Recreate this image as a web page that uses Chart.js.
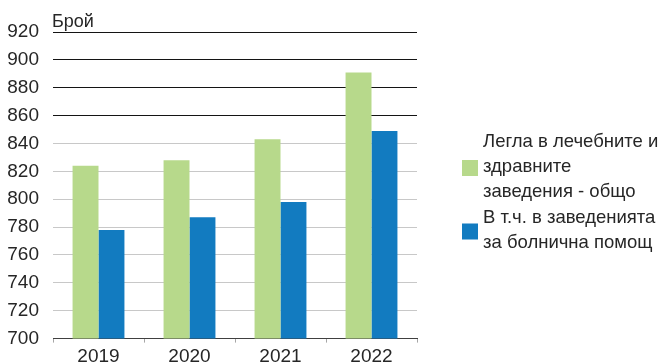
<!DOCTYPE html>
<html>
<head>
<meta charset="utf-8">
<script src="https://cdn.jsdelivr.net/npm/chart.js@4"></script>
<style>
  html, body { margin: 0; padding: 0; background: #ffffff; }
  #wrap { width: 667px; height: 364px; position: relative; }
</style>
</head>
<body>
<div id="wrap"><canvas id="myChart"></canvas></div>
<script>
var years = ['2019', '2020', '2021', '2022'];
var beds_total = [824, 828, 843, 891];
var beds_hospital = [778, 787, 798, 849];
var series_names = [
    ['Легла в лечебните и', 'здравните', 'заведения - общо'],
    ['В т.ч. в заведенията', 'за болнична помощ']
];
var series_colors = ['#b7d98b', '#127bc0'];
var y_min = 700;
var y_max = 920;
var y_step = 20;
var unit_label = 'Брой';

var font_name = '"Liberation Sans", Arial, sans-serif';
var text_color = '#262626';

// unit text above the y axis
var unitPlugin = {
    id: 'unitText',
    afterDraw: function (chart) {
        let ctx = chart.ctx;
        ctx.save();
        ctx.font = '18px ' + font_name;
        ctx.fillStyle = text_color;
        ctx.textAlign = 'left';
        ctx.textBaseline = 'alphabetic';
        ctx.fillText(unit_label, chart.chartArea.left - 1, 27);
        ctx.restore();
    }
};

// legend on the right, labels broken over several lines
var sideLegend = {
    id: 'sideLegend',
    afterDraw: function (chart) {
        let ctx = chart.ctx;
        let x_box = 462;
        let x_text = 483;
        let line_h = 25;
        let y = 142;
        ctx.save();
        ctx.font = '18.5px ' + font_name;
        ctx.fillStyle = text_color;
        ctx.textBaseline = 'middle';
        for (let i = 0; i < series_names.length; i++) {
            let lines = series_names[i];
            let mid = y + (lines.length - 1) * line_h / 2;
            ctx.fillStyle = series_colors[i];
            ctx.fillRect(x_box, mid - 7, 16, 16);
            ctx.fillStyle = text_color;
            for (let j = 0; j < lines.length; j++) {
                ctx.fillText(lines[j], x_text, y + j * line_h);
            }
            y += lines.length * line_h + 1;
        }
        ctx.restore();
    }
};

var ctx = document.getElementById('myChart');
var chart = new Chart(ctx, {
    type: 'bar',
    data: {
        labels: years,
        datasets: [
            {
                label: series_names[0].join(' '),
                data: beds_total,
                backgroundColor: series_colors[0],
                borderWidth: 0
            },
            {
                label: series_names[1].join(' '),
                data: beds_hospital,
                backgroundColor: series_colors[1],
                borderWidth: 0
            }
        ]
    },
    options: {
        responsive: true,
        maintainAspectRatio: false,
        animation: false,
        layout: { padding: { top: 32, right: 250, bottom: 0, left: 0 } },
        datasets: { bar: { barPercentage: 1, categoryPercentage: 0.57 } },
        scales: {
            x: {
                afterFit: function (scale) { scale.height = 25; },
                grid: {
                    offset: true,
                    drawOnChartArea: false,
                    drawTicks: true,
                    tickLength: 4,
                    color: '#a6a6a6'
                },
                border: { display: true, color: '#404040', width: 1 },
                ticks: {
                    padding: 3,
                    color: text_color,
                    font: { family: font_name, size: 19 }
                }
            },
            y: {
                min: y_min,
                max: y_max,
                afterFit: function (scale) { scale.width = 53; },
                border: { display: false },
                grid: {
                    drawTicks: false,
                    color: function (c) {
                        if (c.tick.value >= 860) return '#141414';
                        if (c.tick.value == y_min) return '#404040';
                        return '#c8c8c8';
                    },
                    lineWidth: 1
                },
                ticks: {
                    stepSize: y_step,
                    padding: 14,
                    color: text_color,
                    font: { family: font_name, size: 19 }
                }
            }
        },
        plugins: {
            legend: { display: false },
            tooltip: { enabled: false },
            title: { display: false }
        }
    },
    plugins: [unitPlugin, sideLegend]
});
</script>
</body>
</html>
